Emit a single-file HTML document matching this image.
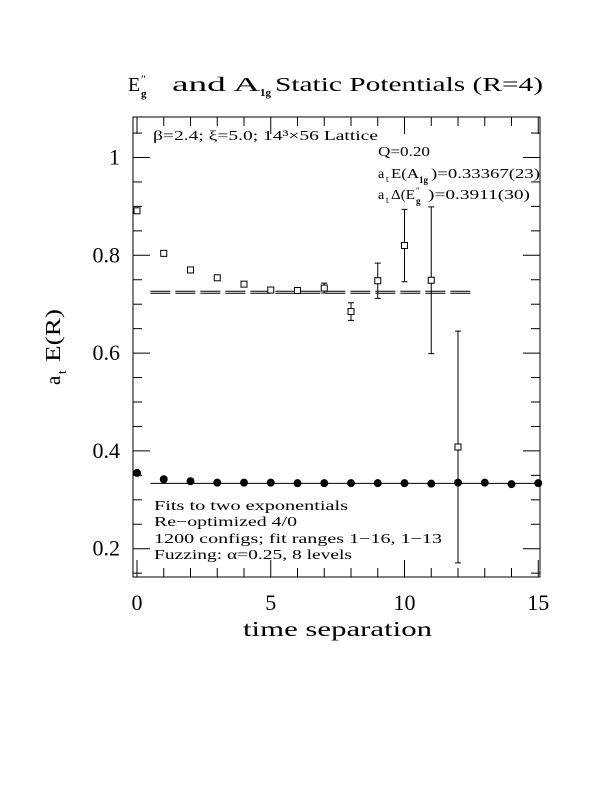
<!DOCTYPE html>
<html><head><meta charset="utf-8"><style>
body{margin:0;background:#fff}
svg{display:block;font-family:"Liberation Serif",serif}
</style></head><body>
<svg id="chart" width="612" height="792" viewBox="0 0 612 792" xmlns="http://www.w3.org/2000/svg">
<rect x="0" y="0" width="612" height="792" fill="#fff"/>
<g font-size="20">
<text x="128" y="91">E</text>
<text x="141" y="83" font-size="12">″</text>
<text x="141" y="97" font-size="11" font-weight="bold">g</text>
<text x="172" y="91" textLength="88" lengthAdjust="spacingAndGlyphs">and A</text>
<text x="260" y="96" font-size="11" font-weight="bold">1g</text>
<text x="275" y="91" textLength="268" lengthAdjust="spacingAndGlyphs">Static Potentials (R=4)</text>
</g>
<rect x="133" y="117" width="407" height="460" fill="none" stroke="#000" stroke-width="1"/>
<g id="axes"></g>
<g id="marks"></g>
<text x="153" y="140" font-size="14" textLength="225" lengthAdjust="spacingAndGlyphs">β=2.4; ξ=5.0; 14³×56 Lattice</text>
<text x="378" y="156" font-size="14" textLength="52" lengthAdjust="spacingAndGlyphs">Q=0.20</text>
<g font-size="14">
<text x="378" y="178">a</text><text x="386" y="182" font-size="9">t</text>
<text x="391" y="178" textLength="28" lengthAdjust="spacingAndGlyphs">E(A</text>
<text x="419" y="183" font-size="9" font-weight="bold">1g</text>
<text x="431" y="178" textLength="109" lengthAdjust="spacingAndGlyphs">)=0.33367(23)</text>
</g>
<g font-size="14">
<text x="378" y="199">a</text><text x="386" y="203" font-size="9">t</text>
<text x="391" y="199" textLength="24" lengthAdjust="spacingAndGlyphs">Δ(E</text>
<text x="416" y="194" font-size="9">″</text>
<text x="416" y="204" font-size="9" font-weight="bold">g</text>
<text x="428" y="199" textLength="102" lengthAdjust="spacingAndGlyphs">)=0.3911(30)</text>
</g>
<g font-size="14">
<text x="154" y="510" textLength="194" lengthAdjust="spacingAndGlyphs">Fits to two exponentials</text>
<text x="154" y="526" textLength="143" lengthAdjust="spacingAndGlyphs">Re−optimized 4/0</text>
<text x="154" y="543" textLength="288" lengthAdjust="spacingAndGlyphs">1200 configs; fit ranges 1−16, 1−13</text>
<text x="154" y="559" textLength="198" lengthAdjust="spacingAndGlyphs">Fuzzing: α=0.25, 8 levels</text>
</g>
<text x="243" y="636" font-size="21" textLength="189" lengthAdjust="spacingAndGlyphs">time separation</text>
<g transform="translate(60,347) rotate(-90)" font-size="21">
<text x="-38" y="0">a</text><text x="-27" y="6" font-size="13">t</text>
<text x="-15" y="0" textLength="53" lengthAdjust="spacingAndGlyphs">E(R)</text>
</g>
</svg>
<script>
const xTicks=[0,5,10,15];
const yTicks=[0.2,0.4,0.6,0.8,1];
const yTickLabels=["0.2","0.4","0.6","0.8","1"];
const egT=[0,1,2,3,4,5,6,7,8,9,10,11,12];
const egVal=[0.891,0.804,0.770,0.754,0.741,0.729,0.728,0.733,0.685,0.748,0.820,0.749,0.408];
const egErr=[0.004,0.004,0.004,0.004,0.004,0.004,0.004,0.010,0.018,0.036,0.074,0.150,0.237];
const a1T=[0,1,2,3,4,5,6,7,8,9,10,11,12,13,14,15];
const a1Val=[0.355,0.342,0.338,0.335,0.335,0.335,0.334,0.334,0.334,0.334,0.334,0.333,0.335,0.335,0.332,0.334];
const a1Fit=[0.33367];
const egFit=[0.7265,0.7225];
const NS="http://www.w3.org/2000/svg";
const X=v=>137+v*26.75;
const Y=v=>157.5+(1-v)*489;
const L=133,R=540,T=117,B=577;
function mk(tag,attrs,parent){const e=document.createElementNS(NS,tag);for(const k in attrs)e.setAttribute(k,attrs[k]);parent.appendChild(e);return e;}
const ax=document.getElementById('axes'),mg=document.getElementById('marks');
for(let i=0;i<=15;i++){const x=X(i),len=(i%5===0)?17:9;
 let t=mk('line',{x1:x,x2:x,y1:B,y2:B-len,stroke:'#000'},ax);
 
 t=mk('line',{x1:x,x2:x,y1:T,y2:T+len,stroke:'#000'},ax);
 }
xTicks.forEach(v=>{const t=mk('text',{x:X(v),y:610,'font-size':22,'text-anchor':'middle'},ax);t.textContent=v;
 });
for(let k=3;k<=21;k++){const v=k*0.05,y=Y(v);if(y<T||y>B)continue;const len=(k%4===0)?17:9;
 let t=mk('line',{x1:L,x2:L+len,y1:y,y2:y,stroke:'#000'},ax);
 
 t=mk('line',{x1:R,x2:R-len,y1:y,y2:y,stroke:'#000'},ax);
 }
yTicks.forEach((v,i)=>{const t=mk('text',{x:120,y:Y(v)+7,'font-size':22,'text-anchor':'end'},ax);t.textContent=yTickLabels[i];
 });
egFit.forEach(v=>{const l=mk('line',{x1:X(0.5),x2:X(12.5),y1:Y(v),y2:Y(v),stroke:'#000','stroke-dasharray':'20 5'},mg);
 });
const fl=mk('line',{x1:X(0.5),x2:X(15),y1:Y(a1Fit[0]),y2:Y(a1Fit[0]),stroke:'#000'},mg);

egT.forEach((t,i)=>{const x=X(t),y=Y(egVal[i]);
 if(egErr[i]>0.006){const e=mk('path',{d:`M${x},${Y(egVal[i]+egErr[i])}V${Y(egVal[i]-egErr[i])}M${x-3},${Y(egVal[i]+egErr[i])}h6M${x-3},${Y(egVal[i]-egErr[i])}h6`,stroke:'#000',fill:'none'},mg);
 }
 const r=mk('rect',{x:x-3,y:y-3,width:6,height:6,fill:'#fff',stroke:'#000'},mg);
 });
a1T.forEach((t,i)=>{const c=mk('circle',{cx:X(t),cy:Y(a1Val[i]),r:4,fill:'#000'},mg);
 });
</script>
</body></html>
